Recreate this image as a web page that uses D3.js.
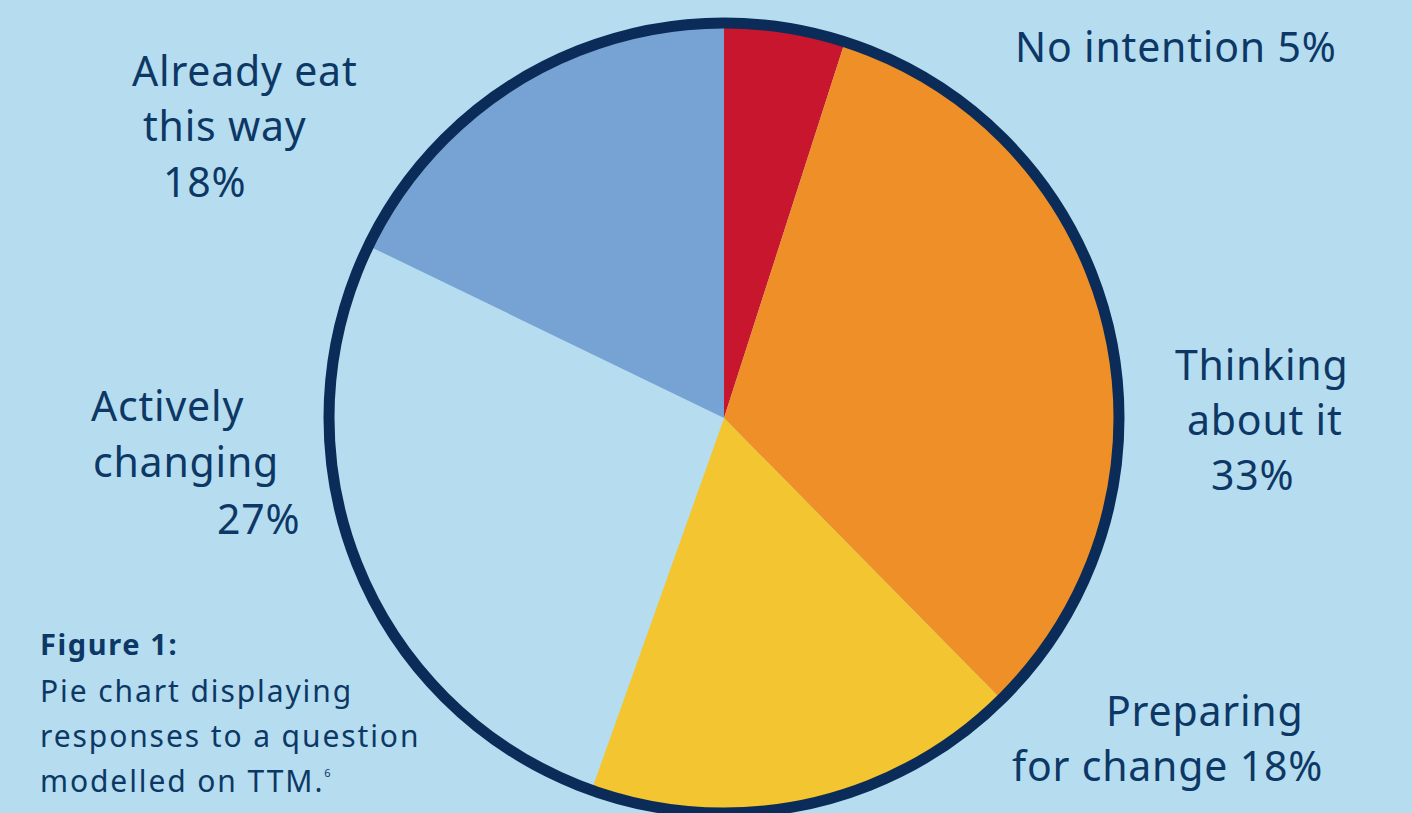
<!DOCTYPE html>
<html>
<head>
<meta charset="utf-8">
<script src="https://cdn.jsdelivr.net/npm/d3@7"></script>
<style>
  html, body { margin: 0; padding: 0; background: #b5ddef; overflow: hidden; }
  svg { display: block; }
</style>
</head>
<body>
<div id="chart"></div>
<script>
// Pie chart - TTM question responses

// Pt. 0 - DATA
const categories = ["No intention", "Thinking about it", "Preparing for change", "Actively changing", "Already eat this way"];
const percents = [5, 33, 18, 27, 18];
const sliceColors = ["#c8162f", "#ee8f27", "#f2c531", "#b5ddef", "#77a3d4"];

// label lines for each slice (text only)
const labelLines = [
    ["No intention 5%"],
    ["Thinking", "about it", "33%"],
    ["Preparing", "for change 18%"],
    ["Actively", "changing", "27%"],
    ["Already eat", "this way", "18%"]
];
const captionTitle = "Figure 1:";
const captionLines = ["Pie chart displaying", "responses to a question", "modelled on TTM."];
const footnoteMark = "6";

// Pt. 1 - "TYPE SETTING"
const width = 1412,
      height = 813,
      cx = 724,
      cy = 418,
      radius = 392;

const ink = "#0d3866";
const rim = "#0b2c58";

let svg = d3.select("#chart")
    .append("svg")
    .attr("width", width)
    .attr("height", height)
    .attr("viewBox", [0, 0, width, height]);

svg.append("rect")
    .attr("width", width)
    .attr("height", height)
    .attr("fill", "#b5ddef");

let data = categories.map((c, i) => ({ name: c, value: percents[i], color: sliceColors[i], lines: labelLines[i] }));

let pie = d3.pie()
    .sort(null)  // keep the order, start at 12 o'clock going clockwise
    .value(d => d.value);

let arc = d3.arc()
    .innerRadius(0)
    .outerRadius(radius);

let g = svg.append("g")
    .attr("transform", `translate(${cx}, ${cy})`);

g.selectAll("path")
    .data(pie(data))
    .join("path")
    .attr("d", arc)
    .attr("fill", d => d.data.color);

// thick outline round the pie
g.append("circle")
    .attr("r", radius + 3)
    .attr("fill", "none")
    .attr("stroke", rim)
    .attr("stroke-width", 11);

// Pt. 2 - LABELS (placed where the original puts them, line by line)
const labelPos = [
    [[1015, 62]],
    [[1175, 380], [1187, 435], [1211, 490]],
    [[1106, 726], [1012, 781]],
    [[91, 421], [93, 477], [217, 534]],
    [[132, 86], [143, 141], [163, 197]]
];

data.forEach((d, i) => {
    svg.append("g")
        .selectAll("text")
        .data(d.lines)
        .join("text")
        .attr("x", (t, j) => labelPos[i][j][0])
        .attr("y", (t, j) => labelPos[i][j][1])
        .attr("font-family", "'Noto Sans', sans-serif")
        .attr("font-size", 41)
        .attr("letter-spacing", 0.8)
        .attr("fill", ink)
        .text(t => t);
});

// caption
svg.append("text")
    .attr("x", 40)
    .attr("y", 655)
    .attr("font-family", "'Noto Sans', sans-serif")
    .attr("font-weight", 700)
    .attr("font-size", 29)
    .attr("letter-spacing", 1.6)
    .attr("fill", ink)
    .text(captionTitle);

let cap = svg.append("g")
    .selectAll("text")
    .data(captionLines)
    .join("text")
    .attr("x", 40)
    .attr("y", (t, i) => 702 + i * 45)
    .attr("font-family", "'Noto Sans', sans-serif")
    .attr("font-size", 30)
    .attr("letter-spacing", 1.9)
    .attr("fill", ink)
    .text(t => t);

cap.filter((t, i) => i === captionLines.length - 1)
    .append("tspan")
    .attr("dy", -15)
    .attr("font-size", 11)
    .text(footnoteMark);
</script>
</body>
</html>
